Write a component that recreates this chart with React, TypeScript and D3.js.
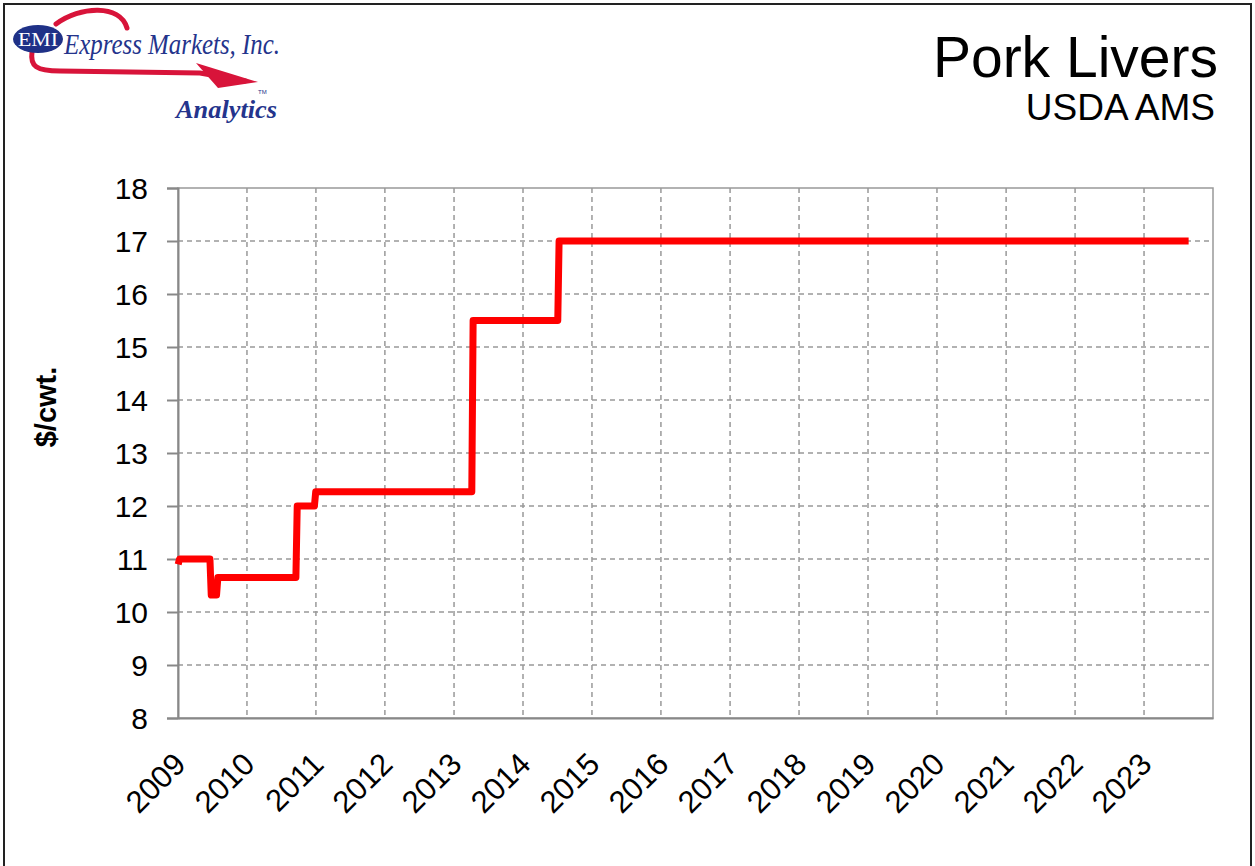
import React, { useEffect, useRef } from "react";
import * as d3 from "d3";

// weekly price points where the level changes (date, $/cwt.)
const dates = [
  "2009-01-02", "2009-01-09", "2009-06-19", "2009-06-26", "2009-07-24", "2009-07-31",
  "2010-09-17", "2010-09-24", "2010-12-24", "2010-12-31", "2013-04-05", "2013-04-12",
  "2014-07-04", "2014-07-11", "2023-08-25",
];
const prices = [
  10.9, 11.0, 11.0, 10.32, 10.32, 10.65,
  10.65, 12.0, 12.0, 12.27, 12.27, 15.5,
  15.5, 17.0, 17.0,
];
const yearTicks = d3.range(2009, 2024);
const priceTicks = d3.range(8, 19);

const W = 1255;
const H = 866;
const margin = { top: 188, right: 42, bottom: 148, left: 178 };

export default function App() {
  const ref = useRef<SVGSVGElement>(null);

  useEffect(() => {
    const svg = d3.select(ref.current);
    svg.selectAll("*").remove();

    const width = W - margin.left - margin.right;
    const height = H - margin.top - margin.bottom;
    const parse = d3.timeParse("%Y-%m-%d");
    const data = dates.map((d, i) => ({ date: parse(d) as Date, value: prices[i] }));

    const x = d3.scaleTime()
      .domain([new Date(2009, 0, 1), new Date(2024, 0, 1)])
      .range([0, width]);
    const y = d3.scaleLinear().domain([8, 18]).range([height, 0]);

    // outer frame
    svg.append("rect")
      .attr("x", 4).attr("y", 4)
      .attr("width", W - 8).attr("height", H + 20)
      .attr("fill", "white").attr("stroke", "#222").attr("stroke-width", 2);

    // logo
    const logo = svg.append("g");
    logo.append("path")
      .attr("d", "M56,24 C80,6 120,4 127,28")
      .attr("fill", "none").attr("stroke", "#d8143a").attr("stroke-width", 5)
      .attr("stroke-linecap", "round");
    logo.append("path")
      .attr("d", "M32,52 C30,66 36,71 60,71 L200,73 L245,81")
      .attr("fill", "none").attr("stroke", "#d8143a").attr("stroke-width", 5)
      .attr("stroke-linecap", "round").attr("stroke-linejoin", "round");
    logo.append("path")
      .attr("d", "M196,63 L258,82 L218,88 Z")
      .attr("fill", "#d8143a");
    logo.append("ellipse")
      .attr("cx", 38).attr("cy", 39).attr("rx", 25).attr("ry", 14)
      .attr("fill", "#1f3187");
    logo.append("text")
      .attr("x", 38).attr("y", 46)
      .attr("text-anchor", "middle")
      .attr("font-family", "Liberation Serif, serif")
      .attr("font-size", 18).attr("fill", "white")
      .attr("textLength", 40).attr("lengthAdjust", "spacingAndGlyphs")
      .text("EMI");
    logo.append("text")
      .attr("x", 64).attr("y", 54)
      .attr("font-family", "Liberation Serif, serif")
      .attr("font-style", "italic")
      .attr("font-size", 30).attr("fill", "#24348c")
      .attr("textLength", 216).attr("lengthAdjust", "spacingAndGlyphs")
      .text("Express Markets, Inc.");
    logo.append("text")
      .attr("x", 176).attr("y", 118)
      .attr("font-family", "Liberation Serif, serif")
      .attr("font-style", "italic").attr("font-weight", "bold")
      .attr("font-size", 25).attr("fill", "#24348c")
      .attr("textLength", 101).attr("lengthAdjust", "spacingAndGlyphs")
      .text("Analytics");
    logo.append("text")
      .attr("x", 258).attr("y", 94)
      .attr("font-family", "Liberation Sans, sans-serif")
      .attr("font-size", 6).attr("fill", "#24348c")
      .text("TM");

    // titles
    svg.append("text")
      .attr("x", 1218).attr("y", 77)
      .attr("text-anchor", "end")
      .attr("font-family", "Liberation Sans, Arial, sans-serif")
      .attr("font-size", 57).attr("fill", "#000")
      .text("Pork Livers");
    svg.append("text")
      .attr("x", 1215).attr("y", 120)
      .attr("text-anchor", "end")
      .attr("font-family", "Liberation Sans, Arial, sans-serif")
      .attr("font-size", 37).attr("fill", "#000")
      .text("USDA AMS");

    const g = svg.append("g").attr("transform", `translate(${margin.left},${margin.top})`);

    // plot box
    g.append("rect")
      .attr("width", width).attr("height", height)
      .attr("fill", "white").attr("stroke", "#999").attr("stroke-width", 1.5);

    // grid
    g.selectAll("line.hgrid")
      .data(priceTicks.slice(1, -1))
      .enter().append("line")
      .attr("class", "hgrid")
      .attr("x1", 0).attr("x2", width)
      .attr("y1", d => y(d)).attr("y2", d => y(d))
      .attr("stroke", "#999").attr("stroke-width", 1.5).attr("stroke-dasharray", "5,4");
    g.selectAll("line.vgrid")
      .data(yearTicks.slice(1))
      .enter().append("line")
      .attr("class", "vgrid")
      .attr("x1", d => x(new Date(d, 0, 1))).attr("x2", d => x(new Date(d, 0, 1)))
      .attr("y1", 0).attr("y2", height)
      .attr("stroke", "#999").attr("stroke-width", 1.5).attr("stroke-dasharray", "5,4");

    // y axis
    const yAxis = g.append("g")
      .call(d3.axisLeft(y).tickValues(priceTicks).tickSize(11).tickPadding(19).tickFormat(d3.format("d")));
    yAxis.select(".domain").attr("stroke", "#888").attr("stroke-width", 2);
    yAxis.selectAll(".tick line").attr("stroke", "#888").attr("stroke-width", 2);
    yAxis.selectAll("text")
      .attr("font-family", "Liberation Sans, Arial, sans-serif")
      .attr("font-size", 30).attr("fill", "#000")
      .attr("dy", "0.36em");

    // x axis
    const xAxis = g.append("g")
      .attr("transform", `translate(0,${height})`)
      .call(d3.axisBottom(x)
        .tickValues(yearTicks.map(d => new Date(d, 0, 1)))
        .tickSize(0).tickPadding(0)
        .tickFormat(d3.timeFormat("%Y") as any));
    xAxis.select(".domain").attr("stroke", "#888").attr("stroke-width", 2);
    xAxis.selectAll("text")
      .attr("font-family", "Liberation Sans, Arial, sans-serif")
      .attr("font-size", 31).attr("fill", "#000")
      .attr("text-anchor", "end")
      .attr("y", 0)
      .attr("dy", "0")
      .attr("transform", "translate(9,48) rotate(-45)");

    // y label
    svg.append("text")
      .attr("transform", "translate(56,407) rotate(-90)")
      .attr("text-anchor", "middle")
      .attr("font-family", "Liberation Sans, Arial, sans-serif")
      .attr("font-size", 29).attr("font-weight", "bold").attr("fill", "#000")
      .text("$/cwt.");

    // price line
    const line = d3.line<{ date: Date; value: number }>()
      .x(d => x(d.date))
      .y(d => y(d.value));
    g.append("path")
      .datum(data)
      .attr("d", line)
      .attr("fill", "none")
      .attr("stroke", "#ff0000")
      .attr("stroke-width", 7)
      .attr("stroke-linejoin", "round");
  }, []);

  return (
    <svg ref={ref} width={W} height={H} style={{ position: "absolute", left: 0, top: 0 }} />
  );
}
